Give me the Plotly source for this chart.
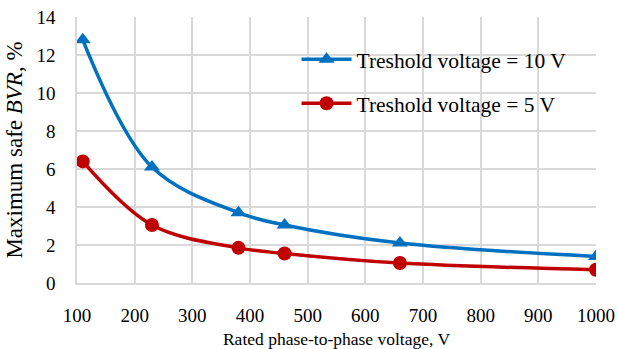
import plotly.graph_objects as go

voltage = [110, 230, 380, 460, 660, 1000]
bvr_10v = [12.8, 6.1, 3.7, 3.05, 2.1, 1.4]
bvr_5v = [6.4, 3.05, 1.85, 1.55, 1.05, 0.7]
x_ticks = [100, 200, 300, 400, 500, 600, 700, 800, 900, 1000]
y_ticks = [0, 2, 4, 6, 8, 10, 12, 14]

fig = go.Figure()
fig.add_trace(go.Scatter(
    x=voltage, y=bvr_10v, mode="lines+markers", name="Treshold voltage = 10 V",
    legendgroup="a",
    line=dict(color="#0070C0", width=3.5, shape="spline", smoothing=1.0),
    marker=dict(symbol="triangle-up", size=14, color="#0070C0"),
))
fig.add_trace(go.Scatter(
    x=voltage, y=bvr_5v, mode="lines+markers", name="Treshold voltage = 5 V",
    legendgroup="b",
    line=dict(color="#C00000", width=3.5, shape="spline", smoothing=1.0),
    marker=dict(symbol="circle", size=14, color="#C00000"),
))

fam = "Liberation Serif"
tick_font = dict(family=fam, size=19, color="black")
xtitle_font = dict(family=fam, size=17.5, color="black")
ytitle_font = dict(family=fam, size=23, color="black")
legend_font = dict(family=fam, size=21.5, color="black")

fig.update_layout(
    width=618, height=349,
    margin=dict(l=77, r=22, t=17, b=66, autoexpand=False),
    paper_bgcolor="white", plot_bgcolor="white",
    font=tick_font,
    showlegend=True,
    legend=dict(x=0.423, y=0.918, xanchor="left", yanchor="top",
                bgcolor="rgba(255,255,255,0)", font=legend_font, tracegroupgap=13,
                itemwidth=50),
)
fig.update_xaxes(
    range=[100, 1000], tickvals=x_ticks, showgrid=True, gridcolor="#D9D9D9", gridwidth=1.5,
    showline=True, linecolor="#D9D9D9", linewidth=1.5, zeroline=False, automargin=False,
    title=dict(text="Rated phase-to-phase voltage, V", font=xtitle_font, standoff=11),
    tickfont=tick_font, ticks="", ticklabelstandoff=14, ticklabeloverflow="allow",
)
fig.update_yaxes(
    range=[0, 14], tickvals=y_ticks, showgrid=True, gridcolor="#D9D9D9", gridwidth=1.5,
    showline=True, linecolor="#D9D9D9", linewidth=1.5, zeroline=False, automargin=False,
    title=dict(text="Maximum safe <i>BVR</i>, %", font=ytitle_font, standoff=7),
    tickfont=tick_font, ticks="", ticklabelstandoff=16, ticklabeloverflow="allow",
)
fig.write_html("out.html", config={"displayModeBar": False},
               post_script="document.body.style.margin='0';")
